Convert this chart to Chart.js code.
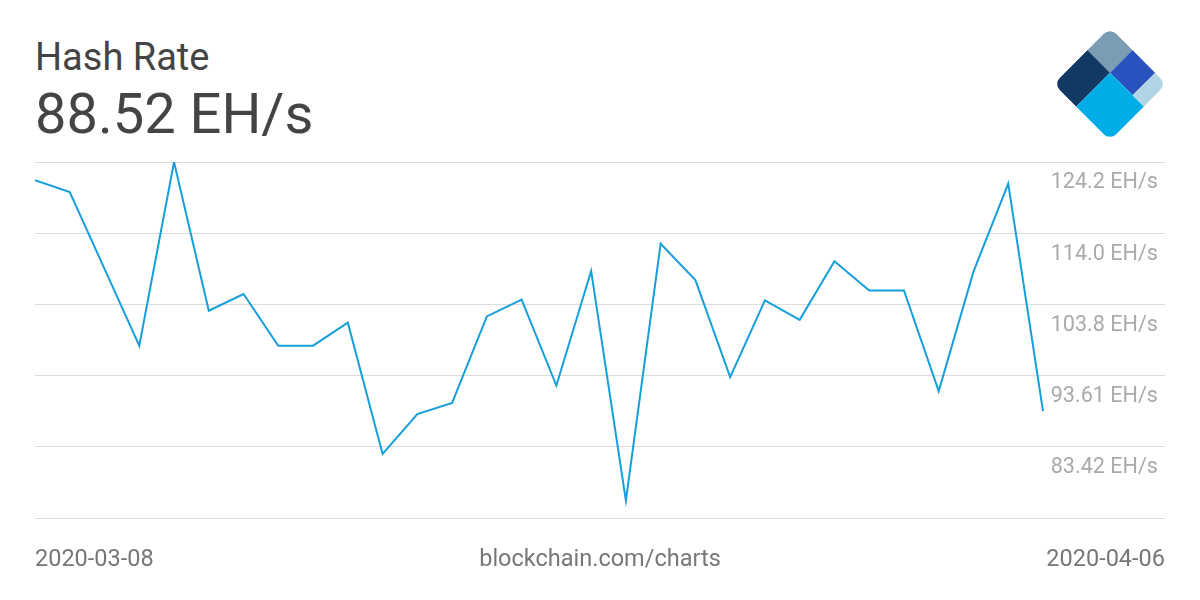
<!DOCTYPE html>
<html>
<head>
<meta charset="utf-8">
<script src="https://cdn.jsdelivr.net/npm/chart.js@4"></script>
<style>
  html, body { margin: 0; padding: 0; background: #fff; }
  body { width: 1200px; height: 600px; position: relative; overflow: hidden; font-family: Roboto, sans-serif; }
  #chart { position: absolute; left: 0; top: 0; }
  .txt { position: absolute; line-height: 1; white-space: nowrap; }
  .title { left: 35px; top: 38px; font-size: 38px; color: #444; }
  .value { left: 35px; top: 86px; font-size: 56px; color: #444; }
  .foot { top: 547px; font-size: 23.5px; color: #777; }
  .logo { position: absolute; left: 1070px; top: 44px; width: 80px; height: 80px;
          transform: rotate(45deg); border-radius: 9px; overflow: hidden; }
  .logo div { position: absolute; }
</style>
</head>
<body>
<div class="txt title">Hash Rate</div>
<div class="txt value">88.52 EH/s</div>

<div class="logo">
  <div style="left:0;top:0;width:40%;height:40%;background:#7b9db4"></div>
  <div style="left:0;top:40%;width:40%;height:60%;background:#123963"></div>
  <div style="left:40%;top:0;width:40%;height:40%;background:#2a52bf"></div>
  <div style="left:80%;top:0;width:20%;height:40%;background:#b1d4e7"></div>
  <div style="left:40%;top:40%;width:60%;height:60%;background:#00ade6"></div>
</div>

<canvas id="chart" width="1200" height="600"></canvas>

<div class="txt foot" style="left:35px">2020-03-08</div>
<div class="txt foot" style="left:0;width:1200px;text-align:center">blockchain.com/charts</div>
<div class="txt foot" style="right:35px">2020-04-06</div>

<script>
const dates = [
  '2020-03-08', '2020-03-09', '2020-03-10', '2020-03-11', '2020-03-12',
  '2020-03-13', '2020-03-14', '2020-03-15', '2020-03-16', '2020-03-17',
  '2020-03-18', '2020-03-19', '2020-03-20', '2020-03-21', '2020-03-22',
  '2020-03-23', '2020-03-24', '2020-03-25', '2020-03-26', '2020-03-27',
  '2020-03-28', '2020-03-29', '2020-03-30', '2020-03-31', '2020-04-01',
  '2020-04-02', '2020-04-03', '2020-04-04', '2020-04-05', '2020-04-06'
];

// EH/s
const hashRate = [
  121.6, 119.9, 108.9, 97.9, 124.2,
  102.9, 105.3, 97.9, 97.9, 101.2,
  82.4, 88.1, 89.7, 102.1, 104.5,
  92.2, 108.6, 75.7, 112.5, 107.3,
  93.4, 104.4, 101.6, 110.0, 105.8,
  105.8, 91.4, 108.5, 121.1, 88.52
];

const yTicks = [73.23, 83.42, 93.61, 103.8, 114.0, 124.2];
const yTickLabels = ['', '83.42 EH/s', '93.61 EH/s', '103.8 EH/s', '114.0 EH/s', '124.2 EH/s'];

const points = hashRate.map((v, i) => ({ x: i, y: v }));

new Chart(document.getElementById('chart'), {
  type: 'line',
  data: {
    labels: dates,
    datasets: [{
      data: points,
      borderColor: '#169fdb',
      borderWidth: 2,
      pointRadius: 0,
      tension: 0,
      fill: false
    }]
  },
  options: {
    responsive: false,
    animation: false,
    layout: { padding: { left: 35, right: 35, top: 162, bottom: 82 } },
    plugins: { legend: { display: false }, tooltip: { enabled: false } },
    scales: {
      x: {
        type: 'linear',
        min: 0,
        max: 32.51,   // leaves room on the right for the tick labels
        display: false
      },
      y: {
        position: 'right',
        min: yTicks[0],
        max: yTicks[yTicks.length - 1],
        afterBuildTicks: (s) => { s.ticks = yTicks.map(v => ({ value: v })); },
        afterFit: (s) => { s.width = 0; s.paddingTop = 0; s.paddingBottom = 0; },
        border: { display: false },
        grid: { color: '#dcdcdc', lineWidth: 1, drawTicks: false },
        ticks: {
          mirror: true,
          padding: -7,
          labelOffset: 21,
          color: '#aaa',
          font: { family: 'Roboto', size: 21.6 },
          callback: (v, i) => yTickLabels[i]
        }
      }
    }
  }
});
</script>
</body>
</html>
